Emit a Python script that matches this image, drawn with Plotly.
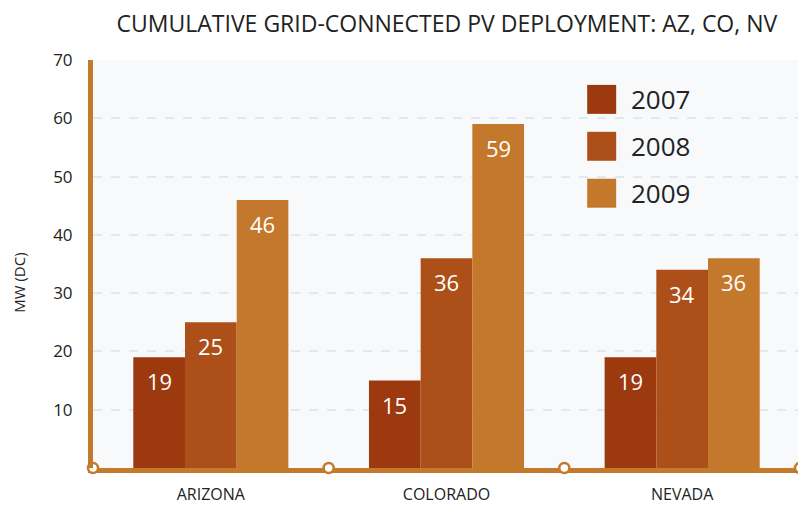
import plotly.graph_objects as go

categories = ["ARIZONA", "COLORADO", "NEVADA"]
years = ["2007", "2008", "2009"]
values_2007 = [19, 15, 19]
values_2008 = [25, 36, 34]
values_2009 = [46, 59, 36]
series = [values_2007, values_2008, values_2009]
colors = ["#9c390f", "#ac4f18", "#c3782b"]
yticks = [10, 20, 30, 40, 50, 60, 70]

accent = "#c47a2c"
bargap = 0.342
fig = go.Figure()
xpos = list(range(len(categories)))
for name, vals, col in zip(years, series, colors):
    fig.add_trace(go.Bar(
        x=xpos, y=vals, name=name, marker=dict(color=col, line=dict(width=0)),
        showlegend=False, hoverinfo="skip",
    ))

# value labels inside bar tops
bw = (1 - bargap) / len(series)
for s, vals in enumerate(series):
    off = (s - (len(series) - 1) / 2) * bw
    for i, v in enumerate(vals):
        fig.add_annotation(x=xpos[i] + off, y=v, text=str(v), showarrow=False,
                           yanchor="middle", yshift=-24,
                           font=dict(color="white", size=22, family="Open Sans"))

# boundary circles on the baseline
bounds = [i - 0.5 for i in range(len(categories) + 1)]
fig.add_trace(go.Scatter(
    x=bounds, y=[0] * len(bounds), mode="markers", cliponaxis=False,
    marker=dict(size=10, color="white", line=dict(color=accent, width=2.5)),
    showlegend=False, hoverinfo="skip",
))

# custom legend
for i, (name, col) in enumerate(zip(years, colors)):
    ytop = 0.939 - i * 0.115
    fig.add_shape(type="rect", xref="paper", yref="paper",
                  x0=0.699, x1=0.740, y0=ytop - 0.071, y1=ytop,
                  fillcolor=col, line=dict(width=0))
    fig.add_annotation(xref="paper", yref="paper", x=0.758, y=ytop - 0.035,
                       text=name, showarrow=False, xanchor="left", yanchor="middle",
                       font=dict(size=26, color="#222222", family="Open Sans"))

# y-axis title
fig.add_annotation(xref="paper", yref="paper", x=-0.104, y=0.455, text="MW (DC)",
                   textangle=-90, showarrow=False, xanchor="center", yanchor="middle",
                   font=dict(size=15, color="#222222", family="Open Sans"))

fig.update_layout(
    width=798, height=498,
    margin=dict(l=85, r=1, t=52, b=37),
    paper_bgcolor="white", plot_bgcolor="#f8f9fb",
    barmode="group", bargap=bargap, bargroupgap=0,
    title=dict(text="CUMULATIVE GRID-CONNECTED PV DEPLOYMENT: AZ, CO, NV",
               x=0.55, xanchor="center", y=0.968, yanchor="middle",
               font=dict(size=23, color="#222222", family="Open Sans")),
    font=dict(family="Open Sans", color="#222222"),
)
fig.update_xaxes(
    range=[-0.5, 2.5], tickvals=xpos, ticktext=categories,
    tickfont=dict(size=16), showgrid=False, zeroline=False,
    showline=True, linecolor=accent, linewidth=5, ticks="",
    layer="below traces", ticklabelstandoff=8,
)
fig.update_yaxes(
    range=[0, 70], tickvals=yticks, tickfont=dict(size=17),
    showgrid=True, gridcolor="#e3e8ef", gridwidth=2, griddash="dash",
    zeroline=False, showline=True, mirror=True, linecolor=accent, linewidth=5,
    ticks="", ticklabelstandoff=12,
)
fig.write_html("out.html")
